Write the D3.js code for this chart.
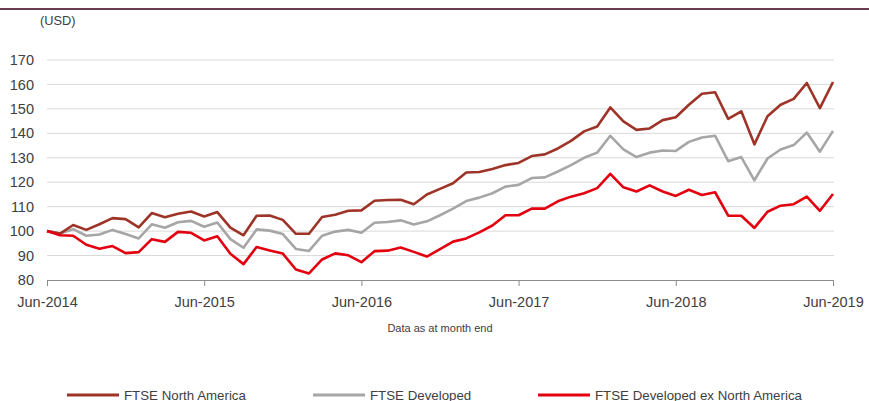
<!DOCTYPE html>
<html>
<head>
<meta charset="utf-8">
<script src="https://cdn.jsdelivr.net/npm/d3@7"></script>
<style>
  body { margin: 0; background: #fff; }
  svg { display: block; font-family: "Liberation Sans", Arial, sans-serif; }
</style>
</head>
<body>
<div id="chart"></div>
<script>
// monthly index levels, Jun-2014 .. Jun-2019 (61 points, rebased to 100)
const northAmerica = [
  100, 99.0, 102.5, 100.5, 102.8, 105.3, 104.9, 101.5, 107.4, 105.7, 107.1, 108.0,
  106.0, 107.8, 101.4, 98.3, 106.3, 106.4, 104.6, 98.9, 98.9, 105.8, 106.7, 108.3,
  108.5, 112.4, 112.7, 112.8, 111.0, 115.0, 117.3, 119.6, 124.0, 124.2, 125.4, 127.0,
  127.9, 130.7, 131.4, 133.8, 136.9, 140.8, 142.8, 150.6, 144.9, 141.4, 142.0, 145.4,
  146.6, 151.7, 156.2, 156.8, 145.9, 149.0, 135.5, 147.0, 151.7, 154.1, 160.6, 150.3,
  161.0
];
const developed = [
  100, 99.0, 100.8, 98.1, 98.6, 100.5, 98.8, 97.0, 102.8, 101.4, 103.6, 104.2,
  101.8, 103.5, 96.7, 93.2, 100.7, 100.2, 98.8, 92.7, 91.9, 98.1, 99.8, 100.5,
  99.3, 103.4, 103.7, 104.4, 102.7, 104.0, 106.5, 109.2, 112.3, 113.7, 115.5, 118.2,
  118.9, 121.7, 122.0, 124.4, 127.0, 130.0, 132.1, 139.0, 133.4, 130.3, 132.1, 133.0,
  132.8, 136.5, 138.3, 139.0, 128.6, 130.3, 120.8, 129.7, 133.4, 135.2, 140.3, 132.5,
  141.0
];
const exNorthAmerica = [
  100, 98.3, 98.1, 94.4, 92.8, 93.9, 91.0, 91.4, 96.7, 95.6, 99.7, 99.3,
  96.2, 97.9, 90.7, 86.5, 93.5, 92.1, 90.8, 84.3, 82.7, 88.4, 90.9, 90.1,
  87.3, 91.8, 92.0, 93.3, 91.5, 89.6, 92.6, 95.7, 97.0, 99.5, 102.3, 106.5,
  106.5, 109.2, 109.2, 112.2, 114.1, 115.5, 117.6, 123.4, 117.9, 116.2, 118.7, 116.2,
  114.4, 116.9, 114.8, 115.9, 106.3, 106.3, 101.3, 107.9, 110.4, 111.0, 114.1, 108.3,
  115.2
];

const seriesNames = ["FTSE North America", "FTSE Developed", "FTSE Developed ex North America"];
const seriesColors = ["#9e3427", "#a6a6a6", "#e3000f"];
const yTicks = [80, 90, 100, 110, 120, 130, 140, 150, 160, 170];
const xTickLabels = ["Jun-2014", "Jun-2015", "Jun-2016", "Jun-2017", "Jun-2018", "Jun-2019"];

const width = 869, height = 401;
const margin = { top: 60, right: 36, bottom: 121, left: 47 };

const svg = d3.select("#chart").append("svg")
  .attr("width", width)
  .attr("height", height);

// thin band at the top of the page
svg.append("line")
  .attr("x1", 0).attr("x2", width)
  .attr("y1", 9).attr("y2", 9)
  .attr("stroke", "#6c3b4f")
  .attr("stroke-width", 2.2);

const x = d3.scaleLinear()
  .domain([0, northAmerica.length - 1])
  .range([margin.left, width - margin.right]);

const y = d3.scaleLinear()
  .domain([80, 170])
  .range([height - margin.bottom, margin.top]);

// gridlines
svg.append("g")
  .selectAll("line")
  .data(yTicks.slice(1))
  .join("line")
  .attr("x1", x(0)).attr("x2", x(60) + 1)
  .attr("y1", d => y(d)).attr("y2", d => y(d))
  .attr("stroke", "#d9d9d9")
  .attr("stroke-width", 1);

// y axis labels
const yAxis = g => g
  .attr("transform", `translate(${margin.left},0)`)
  .call(d3.axisLeft(y).tickValues(yTicks).tickSize(0).tickPadding(13))
  .call(g => g.select(".domain").remove())
  .call(g => g.selectAll("text")
    .attr("fill", "#404040")
    .attr("font-size", 14.5)
    .attr("font-family", "Liberation Sans, Arial, sans-serif"));

svg.append("g").call(yAxis);

// x axis
const xAxis = g => g
  .attr("transform", `translate(0,${y(80)})`)
  .call(d3.axisBottom(x)
    .tickValues(xTickLabels.map((d, i) => i * 12))
    .tickFormat((d, i) => xTickLabels[i])
    .tickSize(6).tickSizeOuter(0).tickPadding(11))
  .call(g => g.select(".domain").attr("stroke", "#8c8c8c"))
  .call(g => g.selectAll(".tick line").attr("stroke", "#8c8c8c"))
  .call(g => g.selectAll("text")
    .attr("fill", "#404040")
    .attr("font-size", 14.5)
    .attr("font-family", "Liberation Sans, Arial, sans-serif"));

svg.append("g").call(xAxis);

svg.append("text")
  .attr("x", 40).attr("y", 25)
  .attr("fill", "#404040")
  .attr("font-size", 12.8)
  .text("(USD)");

svg.append("text")
  .attr("x", 440).attr("y", 332)
  .attr("text-anchor", "middle")
  .attr("fill", "#404040")
  .attr("font-size", 11)
  .text("Data as at month end");

const line = d3.line()
  .x((d, i) => x(i))
  .y(d => y(d));

// draw order: grey, dark red, red on top
const drawOrder = [1, 0, 2];
const allSeries = [northAmerica, developed, exNorthAmerica];
drawOrder.forEach(k => {
  svg.append("path")
    .datum(allSeries[k])
    .attr("fill", "none")
    .attr("stroke", seriesColors[k])
    .attr("stroke-width", 2.6)
    .attr("stroke-linejoin", "round")
    .attr("d", line);
});

// legend
const legendX = [67, 313, 538];
const legend = svg.append("g")
  .selectAll("g")
  .data(seriesNames)
  .join("g")
  .attr("transform", (d, i) => `translate(${legendX[i]},395)`);

legend.append("line")
  .attr("x1", 0).attr("x2", 52)
  .attr("stroke", (d, i) => seriesColors[i])
  .attr("stroke-width", 3);

legend.append("text")
  .attr("x", 57).attr("y", 4.5)
  .attr("fill", "#404040")
  .attr("font-size", 13.3)
  .text(d => d);
</script>
</body>
</html>
